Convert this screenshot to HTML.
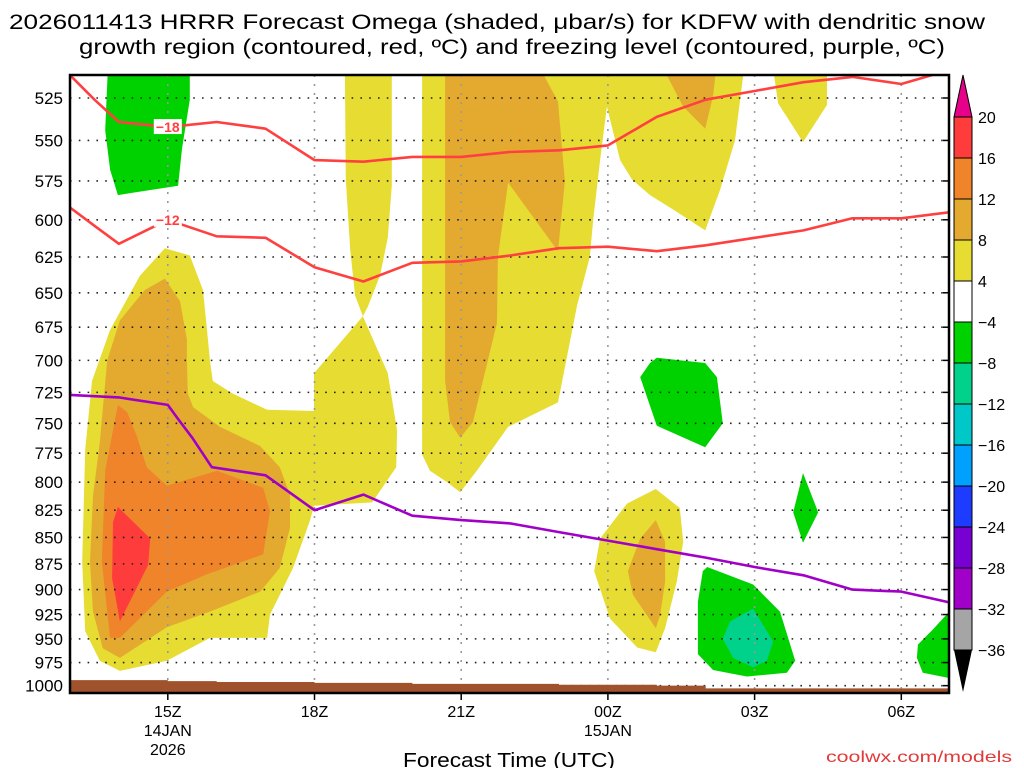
<!DOCTYPE html>
<html><head><meta charset="utf-8"><style>
html,body{margin:0;padding:0;background:#fff;}
svg{display:block;font-family:"Liberation Sans","DejaVu Sans",sans-serif;}
</style></head><body>
<svg id="chart" width="1024" height="768" viewBox="0 0 1024 768" xmlns="http://www.w3.org/2000/svg">
<text x="497" y="29" font-size="21" text-anchor="middle" textLength="976" lengthAdjust="spacingAndGlyphs">2026011413 HRRR Forecast Omega (shaded, μbar/s) for KDFW with dendritic snow</text>
<text x="512" y="54" font-size="21" text-anchor="middle" textLength="866" lengthAdjust="spacingAndGlyphs">growth region (contoured, red, ºC) and freezing level (contoured, purple, ºC)</text>
<defs><clipPath id="plotclip"><rect x="70" y="75" width="879" height="618"/></clipPath></defs>
<g id="fills" clip-path="url(#plotclip)"></g>
<g id="grid"></g>
<g id="lines" clip-path="url(#plotclip)"></g>
<g id="axes"></g>
<g id="cbar"></g>
<text x="509" y="767" font-size="20" text-anchor="middle" textLength="212" lengthAdjust="spacingAndGlyphs">Forecast Time (UTC)</text>
<text x="1012" y="762" font-size="16" fill="#e03a3a" text-anchor="end" textLength="186" lengthAdjust="spacingAndGlyphs">coolwx.com/models</text>
</svg>
<script>
// ---- data (hours since 13Z 14JAN, pressure hPa) ----
const levelColors = {y:"#e6dc32", g8:"#e4aa2f", o12:"#f0842a", r16:"#ff3c3c", gn:"#00d200", tl:"#00d28c"};
const yellowLeft = [[1.94,619],[2.45,624],[2.72,648],[2.82,684],[2.86,700],[2.92,716],[3.33,726],[4.03,739],[4.99,740],[4.99,710],[5.99,667],[6.5,710],[6.69,756],[6.67,787],[6.18,818],[4.99,821],[4.91,834],[4.56,879],[4.09,925],[4.03,949],[2.86,949],[1.98,973],[1.02,984],[0.61,973],[0.31,942],[0.25,873],[0.31,772],[0.45,716],[0.82,677],[1.43,638]];
const yellowCol18 = [[5.62,505],[6.58,505],[6.58,578],[6.5,612],[6.34,638],[6.09,660],[5.99,667],[5.83,652],[5.73,620],[5.64,574]];
const yellowCol21 = [[7.2,505],[13.8,505],[13.6,550],[13.29,581],[12.99,607],[12.37,594],[11.86,584],[11.49,574],[11.25,562],[10.98,530],[10.84,562],[10.7,600],[10.63,625],[10.37,659],[9.98,733],[8.96,753],[8.32,790],[7.98,809],[7.71,800],[7.36,790],[7.2,776]];
const yellowTopRight = [[14.36,505],[15.48,505],[15.48,529],[14.99,551],[14.48,528]];
const yellowLow00 = [[11.98,806],[12.47,823],[12.54,854],[12.41,892],[12.17,939],[11.98,964],[11.6,959],[11.04,929],[10.72,882],[10.84,851],[11.39,819]];
const goldLeft = [[1.94,640],[2.25,656],[2.39,684],[2.39,700],[2.41,726],[2.52,737],[3.07,753],[3.89,769],[4.29,787],[4.5,811],[4.5,841],[4.29,879],[3.89,902],[2.86,922],[1.98,938],[1.02,970],[0.67,960],[0.47,922],[0.41,873],[0.47,812],[0.61,766],[0.76,700],[1.02,670],[1.53,648]];
const goldCol21 = [[7.67,505],[9.55,505],[9.98,527],[10.12,575],[9.98,621],[8.96,576],[8.75,625],[8.73,672],[8.24,749],[7.98,762],[7.77,749],[7.67,716]];
const goldTopRight = [[12.07,505],[13.23,505],[13.15,524],[12.99,543],[12.54,530]];
const goldLow00 = [[11.98,834],[12.17,854],[12.17,892],[12.07,925],[11.98,939],[11.51,905],[11.41,882],[11.66,851]];
const orangeLeft = [[0.98,735],[1.17,741],[1.37,761],[1.57,787],[1.98,803],[3.01,790],[3.95,805],[4.09,826],[3.95,866],[2.8,885],[1.98,902],[1.02,949],[0.82,949],[0.65,873],[0.72,790]];
const redLeft = [[0.98,822],[1.64,851],[1.6,876],[1.02,932],[0.86,889],[0.88,836]];
const greenTopLeft = [[0.78,505],[2.45,505],[2.45,526],[2.29,555],[2.21,578],[0.98,584],[0.82,568],[0.72,544]];
const greenMid = [[12.0,698],[12.99,702],[13.23,713],[13.35,750],[12.99,770],[12.0,752],[11.66,713],[11.86,702]];
const greenDiamond = [[14.99,792],[15.3,827],[14.99,855],[14.79,827]];
const greenLow03 = [[13.03,878],[13.97,895],[14.52,922],[14.83,973],[14.66,986],[13.84,990],[13.15,983],[12.84,966],[12.84,912],[12.94,882]];
const tealLow03 = [[13.97,919],[14.38,953],[14.25,973],[13.97,980],[13.56,970],[13.35,950],[13.5,932]];
const greenRight = [[18.3,905],[18.3,995],[17.44,986],[17.32,970],[17.34,956],[17.65,940]];
const surfacePressure = [994,994,995,996,996,997,997,998,998,998,999,999,1000,1003,1003,1003,1003,1003,1003];
const freezeHours = [0,1,2,2.2,2.5,2.9,4,5,6,7,8,9,10,11,12,13,14,15,16,17,18];
const freezePres = [727,729,735,746,762,787,794,825,811,830,834,837,845,853,861,869,878,886,900,902,913];
const isoHours = [0,0.5,1,2,3,4,5,6,7,8,9,10,11,12,13,14,15,16,17,18];
const iso18Pres = [512,526,539,542,539,543,562,563,560,560,557,556,553,536,526,521,516,513,517,509];
const iso12Pres = [592,604,616,600,611,612,632,642,629,628,624,619,618,621,617,612,607,599,599,595];
const pressureTicks = [525,550,575,600,625,650,675,700,725,750,775,800,825,850,875,900,925,950,975,1000];
const timeTicks = [2,5,8,11,14,17];
const timeLabels = ["15Z","18Z","21Z","00Z","03Z","06Z"];
const cbarLabels = [20,16,12,8,4,-4,-8,-12,-16,-20,-24,-28,-32,-36];
const cbarColors = ["#ff3c3c","#f0842a","#e4aa2f","#e6dc32","#ffffff","#00d200","#00d28c","#00c8c8","#00a0ff","#1e3cff","#7800d2","#a000c8","#a5a5a5"];

// ---- axis functions ----
const X0=70, X1=949, Y0=75, Y1=693;
function xs(h){return 70 + 48.9*h;}
function ys(p){return 98 + 912*Math.log(p/525);}
const NS="http://www.w3.org/2000/svg";
function mk(tag, attrs, parent){const e=document.createElementNS(NS,tag);for(const k in attrs)e.setAttribute(k,attrs[k]);parent.appendChild(e);return e;}
const fills=document.getElementById('fills'), grid=document.getElementById('grid'), lines=document.getElementById('lines'), axes=document.getElementById('axes'), cbar=document.getElementById('cbar');
function poly(arr,color,name){
  const e=mk('polygon',{points:arr.map(d=>xs(d[0]).toFixed(1)+','+ys(d[1]).toFixed(1)).join(' '),fill:color},fills);
  
  
}
poly(yellowLeft,levelColors.y,'omega-4-left');
poly(yellowCol18,levelColors.y,'omega-4-18z-column');
poly(yellowCol21,levelColors.y,'omega-4-21z-column');
poly(yellowTopRight,levelColors.y,'omega-4-top-right');
poly(yellowLow00,levelColors.y,'omega-4-low-00z');
poly(goldLeft,levelColors.g8,'omega-8-left');
poly(goldCol21,levelColors.g8,'omega-8-21z-column');
poly(goldTopRight,levelColors.g8,'omega-8-top-right');
poly(goldLow00,levelColors.g8,'omega-8-low-00z');
poly(orangeLeft,levelColors.o12,'omega-12-left');
poly(redLeft,levelColors.r16,'omega-16-left');
poly(greenTopLeft,levelColors.gn,'omega-neg4-top-left');
poly(greenMid,levelColors.gn,'omega-neg4-mid');
poly(greenDiamond,levelColors.gn,'omega-neg4-diamond');
poly(greenLow03,levelColors.gn,'omega-neg4-low-03z');
poly(tealLow03,levelColors.tl,'omega-neg8-low-03z');
poly(greenRight,levelColors.gn,'omega-neg4-right');

// grid
pressureTicks.forEach(p=>{
  const l=mk('line',{x1:X0,x2:X1,y1:ys(p),y2:ys(p),stroke:'#222','stroke-width':1.6,'stroke-dasharray':'1.6,7.2'},grid);
  
  
});
timeTicks.forEach(h=>{
  const l=mk('line',{x1:xs(h),x2:xs(h),y1:Y0,y2:Y1,stroke:'#999','stroke-width':1.6,'stroke-dasharray':'2,7'},grid);
  
  
});

// terrain
let tp='M'+X0+','+Y1;
surfacePressure.forEach((p,i)=>{tp+=' L'+xs(i)+','+ys(p)+' L'+xs(i+1)+','+ys(p);});
tp+=' L'+xs(19)+','+Y1+' Z';
const terr=mk('path',{d:tp,fill:'#a0522d'},lines);



function line(hs,ps,color,name){
  const e=mk('polyline',{points:hs.map((h,i)=>xs(h).toFixed(1)+','+ys(ps[i]).toFixed(1)).join(' '),fill:'none',stroke:color,'stroke-width':2.6,'stroke-linejoin':'round'},lines);
  
  
}
line(freezeHours,freezePres,'#a000c8','freezing-level-line');
line(isoHours,iso18Pres,'#ff4040','isotherm-minus18');
line(isoHours,iso12Pres,'#ff4040','isotherm-minus12');
function clabel(h,p,t,name){
  const r=mk('rect',{x:xs(h)-14,y:ys(p)-8,width:28,height:15,fill:'#fff'},lines);
  
  
  const tx=mk('text',{x:xs(h),y:ys(p)+5,'font-size':14,'font-weight':'bold',fill:'#ff4040','text-anchor':'middle'},lines);
  tx.textContent=t;
  
  
}
clabel(2,542,'−18','label-minus18');
clabel(2,600,'−12','label-minus12');

// axes
const fr=mk('rect',{x:X0,y:Y0,width:X1-X0,height:Y1-Y0,fill:'none',stroke:'#000','stroke-width':2.5},axes);


pressureTicks.forEach(p=>{
  const t=mk('text',{x:63,y:ys(p)+6,'font-size':17,'text-anchor':'end'},axes);
  t.textContent=p;
  
  
  const tk=mk('line',{x1:X1-6,x2:X1,y1:ys(p),y2:ys(p),stroke:'#000','stroke-width':1.5},axes);
  
  
});
timeTicks.forEach((h,i)=>{
  const tk=mk('line',{x1:xs(h),x2:xs(h),y1:Y1,y2:Y1+7,stroke:'#000','stroke-width':1.5},axes);
  
  
  const t=mk('text',{x:xs(h),y:717,'font-size':16,'text-anchor':'middle'},axes);
  t.textContent=timeLabels[i];
  
  
});
[['14JAN',2,736],['2026',2,755],['15JAN',11,736]].forEach(d=>{
  const t=mk('text',{x:xs(d[1]),y:d[2],'font-size':16,'text-anchor':'middle'},axes);
  t.textContent=d[0];
  
  
});

// colorbar
const CB0=117, CBH=41, CX=954, CW=18;
const up=mk('polygon',{points:`${CX},${CB0} ${CX+CW/2},75 ${CX+CW},${CB0}`,fill:'#e6008a',stroke:'#000','stroke-width':1},cbar);


cbarColors.forEach((c,i)=>{
  const r=mk('rect',{x:CX,y:CB0+i*CBH,width:CW,height:CBH,fill:c,stroke:'#000','stroke-width':1},cbar);
  
  
});
const bot=CB0+cbarColors.length*CBH;
const dn=mk('polygon',{points:`${CX},${bot} ${CX+CW/2},${bot+42} ${CX+CW},${bot}`,fill:'#000'},cbar);


cbarLabels.forEach((v,i)=>{
  const t=mk('text',{x:978,y:CB0+i*CBH+6,'font-size':16},cbar);
  t.textContent=v<0?'−'+(-v):String(v);
  
  
});
</script>
</body></html>
